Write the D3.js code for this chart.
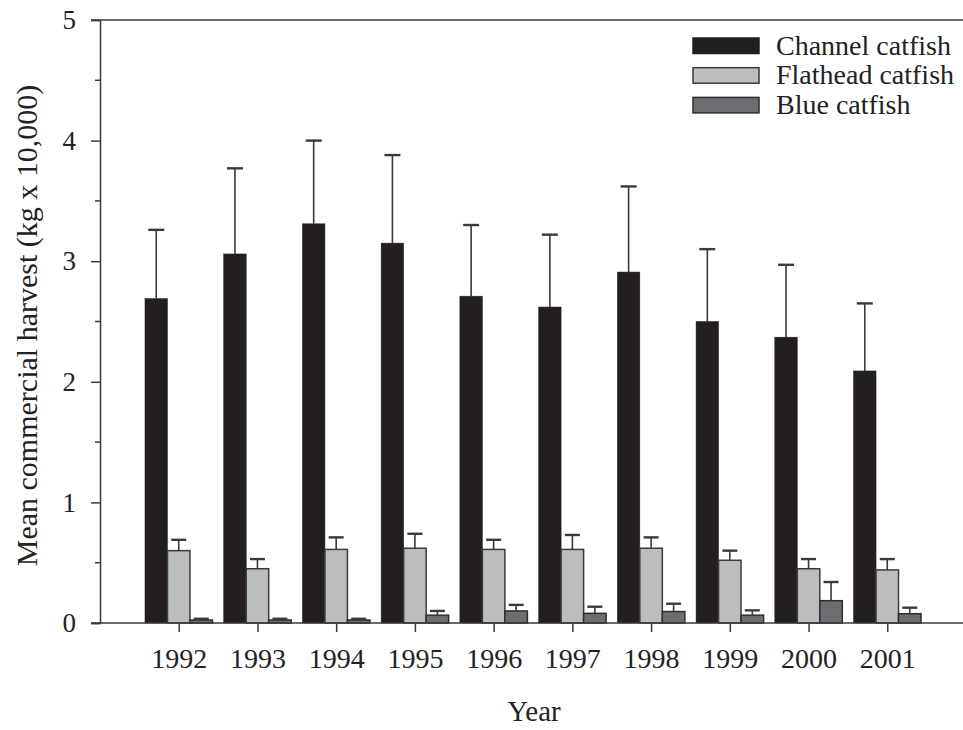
<!DOCTYPE html>
<html>
<head>
<meta charset="utf-8">
<script src="https://cdn.jsdelivr.net/npm/d3@7"></script>
<style>
  html, body { margin: 0; padding: 0; background: #fff; }
  svg { display: block; font-family: "Liberation Serif", "Times New Roman", serif; }
</style>
</head>
<body>
<svg id="chart" width="963" height="730"></svg>
<script>
// Mean commercial harvest (kg x 10,000) by year, with upper standard-error bars
const years = ["1992", "1993", "1994", "1995", "1996", "1997", "1998", "1999", "2000", "2001"];
const seriesNames = ["Channel catfish", "Flathead catfish", "Blue catfish"];
const channel    = [2.69, 3.06, 3.31, 3.15, 2.71, 2.62, 2.91, 2.50, 2.37, 2.09];
const channelErr = [0.57, 0.71, 0.69, 0.73, 0.59, 0.60, 0.71, 0.60, 0.60, 0.56];
const flathead    = [0.60, 0.45, 0.61, 0.62, 0.61, 0.61, 0.62, 0.52, 0.45, 0.44];
const flatheadErr = [0.09, 0.08, 0.10, 0.12, 0.08, 0.12, 0.09, 0.08, 0.08, 0.09];
const blue    = [0.025, 0.025, 0.025, 0.065, 0.10, 0.08, 0.095, 0.065, 0.185, 0.077];
const blueErr = [0.01, 0.01, 0.01, 0.035, 0.05, 0.055, 0.065, 0.04, 0.155, 0.05];
const yTicks = [0, 1, 2, 3, 4, 5];
const yMinorTicks = [0.5, 1.5, 2.5, 3.5, 4.5];

const seriesValues = [channel, flathead, blue];
const seriesErrors = [channelErr, flatheadErr, blueErr];
const fills = ["#231f20", "#bcbdbf", "#6d6e71"];
const strokes = ["#231f20", "#3b3b3b", "#2e2e2e"];

const svg = d3.select("#chart");
const plotLeft = 100, plotRight = 963, plotTop = 20, plotBottom = 623;

const x = d3.scalePoint().domain(years).range([plotLeft, 966]).padding(1);
const y = d3.scaleLinear().domain([0, 5]).range([plotBottom, plotTop]);
const barW = 22.5;
const offset = [-barW, 0, barW]; // bar centre relative to the year tick

const axisColor = "#3a3a3a";

// top border line
svg.append("line").attr("x1", plotLeft - 9).attr("x2", plotRight).attr("y1", y(5)).attr("y2", y(5))
  .attr("stroke", axisColor).attr("stroke-width", 1.5);

// bars
seriesValues.forEach((vals, s) => {
  const g = svg.append("g");
  g.selectAll("rect").data(vals).join("rect")
    .attr("x", (d, i) => x(years[i]) + offset[s] - barW / 2)
    .attr("y", d => y(d))
    .attr("width", barW)
    .attr("height", d => y(0) - y(d))
    .attr("fill", fills[s])
    .attr("stroke", strokes[s])
    .attr("stroke-width", s === 0 ? 0.5 : 1.5);
});

// upper error bars
seriesValues.forEach((vals, s) => {
  const capW = s === 0 ? 16 : 15;
  const g = svg.append("g").attr("stroke", "#3a3a3a");
  vals.forEach((v, i) => {
    const cx = x(years[i]) + offset[s];
    const yt = y(v + seriesErrors[s][i]);
    g.append("line").attr("x1", cx).attr("x2", cx).attr("y1", y(v)).attr("y2", yt)
      .attr("stroke-width", 1.6);
    g.append("line").attr("x1", cx - capW / 2).attr("x2", cx + capW / 2).attr("y1", yt).attr("y2", yt)
      .attr("stroke-width", 2.4);
  });
});

// y axis
const yAxis = d3.axisLeft(y).tickValues(yTicks).tickSize(9).tickPadding(15).tickFormat(d3.format("d"));
const gy = svg.append("g").attr("transform", `translate(${plotLeft},0)`).call(yAxis);
gy.select(".domain").attr("stroke", axisColor).attr("stroke-width", 1.5);
gy.selectAll(".tick line").attr("stroke", axisColor).attr("stroke-width", 1.5);
gy.selectAll(".tick text").attr("font-size", 27).attr("fill", "#222")
  .attr("font-family", "Liberation Serif, Times New Roman, serif");
gy.selectAll(".minor").data(yMinorTicks).join("line")
  .attr("class", "minor")
  .attr("x1", -5).attr("x2", 0).attr("y1", d => y(d)).attr("y2", d => y(d))
  .attr("stroke", axisColor).attr("stroke-width", 1.5);

// x axis
const xAxis = d3.axisBottom(x).tickSize(9).tickPadding(16).tickSizeOuter(0);
const gx = svg.append("g").attr("transform", `translate(0,${plotBottom})`).call(xAxis);
gx.select(".domain").remove();
gx.selectAll(".tick line").attr("stroke", axisColor).attr("stroke-width", 1.5);
gx.selectAll(".tick text").attr("font-size", 28).attr("fill", "#222")
  .attr("font-family", "Liberation Serif, Times New Roman, serif");
svg.append("line").attr("x1", plotLeft - 9).attr("x2", plotRight).attr("y1", plotBottom).attr("y2", plotBottom)
  .attr("stroke", axisColor).attr("stroke-width", 1.5);

// axis titles
svg.append("text").attr("x", 534).attr("y", 721).attr("text-anchor", "middle")
  .attr("font-size", 29).attr("fill", "#222").text("Year");
svg.append("text")
  .attr("transform", `translate(37,${(81 + 570) / 2}) rotate(-90)`)
  .attr("text-anchor", "middle").attr("font-size", 30).attr("fill", "#222")
  .text("Mean commercial harvest (kg x 10,000)");

// legend
const legend = svg.append("g").attr("transform", "translate(693,38)");
seriesNames.forEach((name, s) => {
  const row = legend.append("g").attr("transform", `translate(0,${s * 29.7})`);
  row.append("rect").attr("x", 0).attr("y", 0).attr("width", 66).attr("height", 15.5)
    .attr("fill", fills[s]).attr("stroke", s === 0 ? fills[s] : strokes[s]).attr("stroke-width", 1.5);
  row.append("text").attr("x", 83).attr("y", 16.5).attr("font-size", 28).attr("fill", "#222").text(name);
});
</script>
</body>
</html>
